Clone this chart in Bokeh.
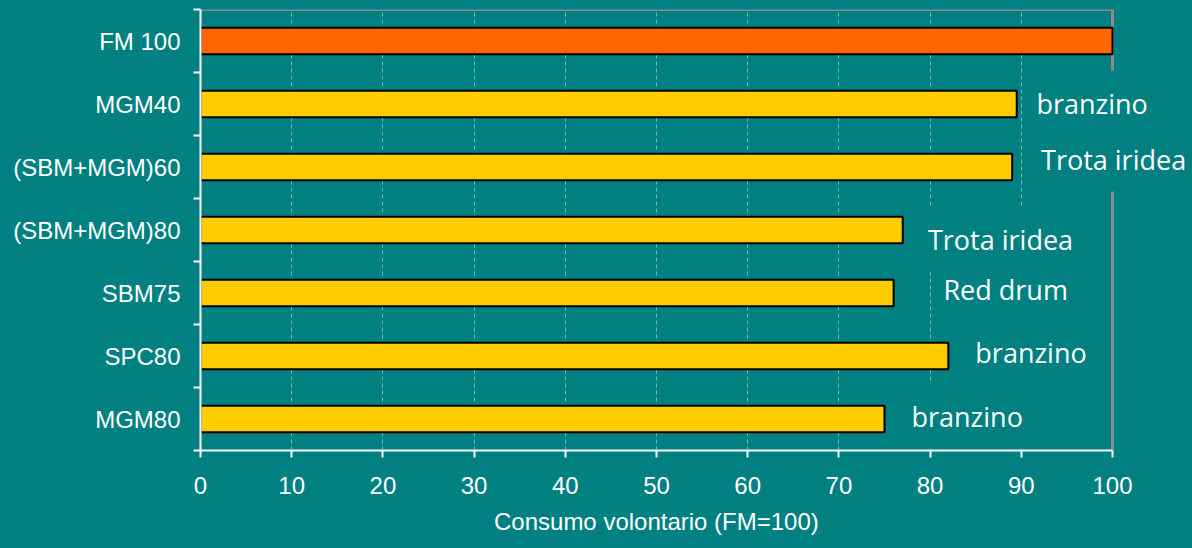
from bokeh.plotting import figure
from bokeh.models import Range1d, FixedTicker, Label, Title
from bokeh.embed import file_html
from bokeh.resources import INLINE

# Diets (top to bottom) and relative voluntary intake (FM = 100)
diets = ["FM 100", "MGM40", "(SBM+MGM)60", "(SBM+MGM)80", "SBM75", "SPC80", "MGM80"]
intake = [100, 89.5, 89, 77, 76, 82, 75]
bar_colors = ["#FF6600", "#FFCC00", "#FFCC00", "#FFCC00", "#FFCC00", "#FFCC00", "#FFCC00"]

# Species tested for each diet (none for the reference diet)
species = ["", "branzino", "Trota iridea", "Trota iridea", "Red drum", "branzino", "branzino"]
# Where each species note sits: left edge in axis units, vertical nudge in px
label_x = [None, 92.1, 92.6, 80.2, 81.9, 85.4, 78.4]
label_dy = [0, 1, 8, -9, 4, 4, 3]

x_ticks = list(range(0, 101, 10))
x_min, x_max = x_ticks[0], x_ticks[-1]
x_title = "Consumo volontario (FM=100)"

TEAL = "#008080"
BORDER = "#8a8a8a"
W, H = 1192, 548
LEFT, TOP, BOTTOM = 200, 9, 98
AXIS_W = 912        # pixel width of the 0..100 scale
TITLE_W = 325       # approximate rendered width of the x title at 24px

n = len(diets)
centers = [n - i - 0.5 for i in range(n)]

# The frame runs to the right edge of the page so the species notes are not cut;
# the scale itself stops at 100.
x_end = x_min + (x_max - x_min) * (W - LEFT) / AXIS_W

p = figure(width=W, height=H, output_backend="svg", toolbar_location=None,
           x_range=Range1d(x_min, x_end), y_range=Range1d(0, n),
           min_border_left=LEFT, min_border_right=0,
           min_border_top=TOP, min_border_bottom=BOTTOM)
p.background_fill_color = TEAL
p.border_fill_color = TEAL
p.outline_line_color = None
p.styles = {"background-color": TEAL}

# top and right edges of the plotting area
p.segment(x0=[x_min, x_max], y0=[n, 0], x1=[x_max, x_max], y1=[n, n],
          line_color=BORDER, line_width=3)

p.hbar(y=centers, right=intake, left=0, height=0.42,
       fill_color=bar_colors, line_color="black", line_width=2)

# x axis
p.xaxis.ticker = FixedTicker(ticks=x_ticks)
p.xaxis.bounds = (x_min, x_max)
p.xaxis.axis_line_color = "white"
p.xaxis.axis_line_width = 2
p.xaxis.major_tick_line_color = "white"
p.xaxis.major_tick_line_width = 2
p.xaxis.major_tick_out = 7
p.xaxis.major_tick_in = 0
p.xaxis.minor_tick_line_color = None
p.xaxis.major_label_text_color = "white"
p.xaxis.major_label_text_font = "Liberation Sans"
p.xaxis.major_label_text_font_size = "24px"
p.xaxis.major_label_standoff = 19

# x title, centred under the 0..100 scale
p.add_layout(Title(text=x_title, align="left", offset=(AXIS_W - TITLE_W) / 2,
                   vertical_align="top",
                   text_color="white", text_font="Liberation Sans",
                   text_font_size="24px", text_font_style="normal",
                   standoff=22), "below")

# y axis: labels at bar centres, tick marks at category boundaries
p.yaxis.ticker = FixedTicker(ticks=centers, minor_ticks=list(range(0, n + 1)))
p.yaxis.major_label_overrides = {c: d for c, d in zip(centers, diets)}
p.yaxis.axis_line_color = "white"
p.yaxis.axis_line_width = 2
p.yaxis.major_tick_line_color = None
p.yaxis.minor_tick_line_color = "white"
p.yaxis.minor_tick_line_width = 2
p.yaxis.minor_tick_out = 7
p.yaxis.minor_tick_in = 0
p.yaxis.major_label_text_color = "white"
p.yaxis.major_label_text_font = "Liberation Sans"
p.yaxis.major_label_text_font_size = "24px"
p.yaxis.major_label_standoff = 13

# vertical dashed grid
p.xgrid.ticker = FixedTicker(ticks=x_ticks[1:-1])
p.xgrid.grid_line_color = "#b8dede"
p.xgrid.grid_line_alpha = 0.6
p.xgrid.grid_line_dash = "4 3"
p.xgrid.grid_line_width = 1
p.ygrid.grid_line_color = None

# species notes beside the bars
PAD = 14
for name, lx, dy, yc in zip(species, label_x, label_dy, centers):
    if not name:
        continue
    p.add_layout(Label(x=lx, y=yc, x_offset=-PAD, y_offset=dy, text=name,
                       text_align="left", text_baseline="middle",
                       text_color="white", text_font="Open Sans",
                       text_font_size="27px",
                       background_fill_color=TEAL, padding=(10, PAD)))

open("out.html", "w").write(file_html(p, INLINE))
